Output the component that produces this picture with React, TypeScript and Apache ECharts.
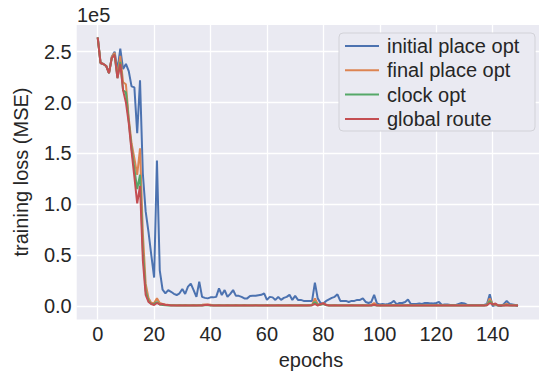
import React, { useEffect, useRef } from "react";
import * as echarts from "echarts";

// training loss (MSE), in units of 1e5, epochs 0..149
const initialPlaceOpt = [
  2.64, 2.39, 2.38, 2.36, 2.29, 2.45, 2.50, 2.32, 2.53, 2.33,
  2.38, 2.31, 2.16, 2.15, 1.70, 2.22, 1.30, 0.93, 0.73, 0.50,
  0.28, 1.43, 0.35, 0.16, 0.125, 0.157, 0.14, 0.12, 0.108, 0.125,
  0.167, 0.118, 0.19, 0.22, 0.157, 0.09, 0.24, 0.09, 0.08, 0.075,
  0.085, 0.085, 0.09, 0.174, 0.108, 0.157, 0.09, 0.12, 0.157, 0.10,
  0.10, 0.09, 0.075, 0.075, 0.098, 0.10, 0.10, 0.105, 0.11, 0.125,
  0.06, 0.09, 0.085, 0.06, 0.09, 0.06, 0.08, 0.09, 0.11, 0.06,
  0.10, 0.06, 0.06, 0.05, 0.05, 0.05, 0.05, 0.23, 0.075, 0.03,
  0.026, 0.05, 0.065, 0.08, 0.09, 0.115, 0.05, 0.05, 0.05, 0.04,
  0.05, 0.05, 0.06, 0.06, 0.075, 0.04, 0.03, 0.04, 0.11, 0.026,
  0.016, 0.02, 0.016, 0.02, 0.03, 0.05, 0.016, 0.03, 0.03, 0.04,
  0.065, 0.02, 0.02, 0.02, 0.025, 0.02, 0.03, 0.03, 0.026, 0.025,
  0.03, 0.04, 0.01, 0.015, 0.016, 0.01, 0.01, 0.01, 0.02, 0.03,
  0.025, 0.01, 0.01, 0.01, 0.01, 0.01, 0.01, 0.01, 0.02, 0.115,
  0.0, 0.01, 0.005, 0.0, 0.02, 0.05, 0.02, 0.015, 0.01, 0.0,
];

const finalPlaceOpt = [
  2.64, 2.39, 2.38, 2.36, 2.29, 2.45, 2.49, 2.26, 2.46, 2.20,
  2.18, 1.85, 1.60, 1.45, 1.29, 1.55, 0.72, 0.22, 0.08, 0.03,
  0.03, 0.075, 0.03, 0.02, 0.015, 0.012, 0.01, 0.01, 0.008, 0.01,
  0.008, 0.01, 0.008, 0.008, 0.01, 0.008, 0.01, 0.012, 0.015, 0.015,
  0.012, 0.008, 0.008, 0.01, 0.008, 0.008, 0.01, 0.008, 0.008, 0.01,
  0.008, 0.008, 0.01, 0.008, 0.008, 0.008, 0.01, 0.008, 0.008, 0.008,
  0.01, 0.008, 0.008, 0.008, 0.01, 0.008, 0.008, 0.008, 0.01, 0.008,
  0.008, 0.008, 0.01, 0.008, 0.008, 0.01, 0.012, 0.075, 0.02, 0.01,
  0.03, 0.012, 0.008, 0.008, 0.01, 0.008, 0.008, 0.008, 0.008, 0.008,
  0.01, 0.008, 0.008, 0.008, 0.01, 0.008, 0.008, 0.012, 0.03, 0.01,
  0.008, 0.008, 0.008, 0.008, 0.008, 0.01, 0.008, 0.008, 0.008, 0.008,
  0.01, 0.008, 0.008, 0.008, 0.008, 0.008, 0.008, 0.008, 0.008, 0.008,
  0.01, 0.008, 0.008, 0.008, 0.008, 0.008, 0.008, 0.008, 0.008, 0.008,
  0.008, 0.008, 0.008, 0.008, 0.008, 0.008, 0.008, 0.008, 0.012, 0.075,
  0.02, 0.01, 0.008, 0.008, 0.01, 0.02, 0.01, 0.008, 0.008, 0.008,
];

const clockOpt = [
  2.64, 2.39, 2.38, 2.36, 2.29, 2.44, 2.47, 2.24, 2.40, 2.12,
  2.10, 1.82, 1.55, 1.35, 1.15, 1.29, 0.55, 0.15, 0.05, 0.02,
  0.02, 0.04, 0.015, 0.01, 0.008, 0.006, 0.005, 0.005, 0.005, 0.005,
  0.005, 0.005, 0.005, 0.005, 0.005, 0.005, 0.005, 0.006, 0.008, 0.008,
  0.006, 0.005, 0.005, 0.005, 0.005, 0.005, 0.005, 0.005, 0.005, 0.005,
  0.005, 0.005, 0.005, 0.005, 0.005, 0.005, 0.005, 0.005, 0.005, 0.005,
  0.005, 0.005, 0.005, 0.005, 0.005, 0.005, 0.005, 0.005, 0.005, 0.005,
  0.005, 0.005, 0.005, 0.005, 0.005, 0.005, 0.008, 0.04, 0.01, 0.015,
  0.02, 0.008, 0.005, 0.005, 0.005, 0.005, 0.005, 0.005, 0.005, 0.005,
  0.005, 0.005, 0.005, 0.005, 0.005, 0.005, 0.005, 0.006, 0.01, 0.005,
  0.005, 0.005, 0.005, 0.005, 0.005, 0.005, 0.005, 0.005, 0.005, 0.005,
  0.005, 0.005, 0.005, 0.005, 0.005, 0.005, 0.005, 0.005, 0.005, 0.005,
  0.005, 0.005, 0.005, 0.005, 0.005, 0.005, 0.005, 0.005, 0.005, 0.005,
  0.005, 0.005, 0.005, 0.005, 0.005, 0.005, 0.005, 0.005, 0.008, 0.05,
  0.015, 0.02, 0.005, 0.005, 0.005, 0.01, 0.005, 0.005, 0.005, 0.005,
];

const globalRoute = [
  2.64, 2.39, 2.38, 2.36, 2.29, 2.44, 2.47, 2.24, 2.38, 2.12,
  2.00, 1.80, 1.52, 1.27, 1.01, 1.18, 0.45, 0.11, 0.04, 0.02,
  0.01, 0.03, 0.015, 0.02, 0.01, 0.01, 0.005, 0.005, 0.005, 0.005,
  0.005, 0.005, 0.005, 0.005, 0.005, 0.005, 0.005, 0.006, 0.01, 0.012,
  0.008, 0.005, 0.005, 0.005, 0.005, 0.005, 0.005, 0.005, 0.005, 0.005,
  0.005, 0.005, 0.005, 0.005, 0.005, 0.005, 0.005, 0.005, 0.005, 0.005,
  0.005, 0.005, 0.005, 0.005, 0.005, 0.005, 0.005, 0.005, 0.005, 0.005,
  0.005, 0.005, 0.005, 0.005, 0.005, 0.005, 0.008, 0.02, 0.005, 0.02,
  0.025, 0.01, 0.005, 0.005, 0.005, 0.005, 0.005, 0.005, 0.005, 0.005,
  0.005, 0.005, 0.005, 0.005, 0.005, 0.005, 0.005, 0.006, 0.012, 0.005,
  0.005, 0.005, 0.005, 0.005, 0.005, 0.005, 0.005, 0.005, 0.005, 0.005,
  0.005, 0.005, 0.005, 0.005, 0.005, 0.005, 0.005, 0.005, 0.005, 0.005,
  0.005, 0.005, 0.005, 0.005, 0.005, 0.005, 0.005, 0.005, 0.005, 0.005,
  0.005, 0.005, 0.005, 0.005, 0.005, 0.005, 0.005, 0.005, 0.008, 0.03,
  0.015, 0.025, 0.005, 0.005, 0.005, 0.008, 0.005, 0.005, 0.005, 0.005,
];

const seriesNames = ["initial place opt", "final place opt", "clock opt", "global route"];
const seriesColors = ["#4C72B0", "#DD8452", "#55A868", "#C44E52"];
const seriesValues = [initialPlaceOpt, finalPlaceOpt, clockOpt, globalRoute];

const FONT = "'Liberation Sans', Arial, Helvetica, sans-serif";
const TEXT = "#262626";
const FS = 20;

export default function App() {
  const ref = useRef<HTMLDivElement>(null);
  useEffect(() => {
    if (!ref.current) return;
    const chart = echarts.init(ref.current, null, { renderer: "svg" });
    chart.setOption({
      animation: false,
      backgroundColor: "#ffffff",
      textStyle: { fontFamily: FONT },
      grid: {
        left: 76.7,
        top: 25,
        width: 469.1,
        height: 294.4,
        show: true,
        backgroundColor: "#EAEAF2",
        borderWidth: 0,
        containLabel: false,
      },
      xAxis: {
        type: "value",
        min: -7.45,
        max: 156.45,
        minInterval: 20,
        maxInterval: 20,
        splitNumber: 8,
        axisLine: { show: false },
        axisTick: { show: false },
        axisLabel: {
          showMinLabel: false,
          showMaxLabel: false,
          margin: 5,
          color: TEXT,
          fontSize: FS,
          fontFamily: FONT,
        },
        splitLine: {
          show: true,
          showMinLine: false,
          showMaxLine: false,
          lineStyle: { color: "#ffffff", width: 1.3 },
        },
      },
      yAxis: {
        type: "value",
        min: -0.1316,
        max: 2.763,
        minInterval: 0.5,
        maxInterval: 0.5,
        splitNumber: 6,
        axisLine: { show: false },
        axisTick: { show: false },
        axisLabel: {
          showMinLabel: false,
          showMaxLabel: false,
          margin: 5,
          color: TEXT,
          fontSize: FS,
          fontFamily: FONT,
          formatter: (v: number) => v.toFixed(1),
        },
        splitLine: {
          show: true,
          showMinLine: false,
          showMaxLine: false,
          lineStyle: { color: "#ffffff", width: 1.3 },
        },
      },
      legend: {
        orient: "vertical",
        left: 345,
        top: 34,
        padding: 0,
        itemGap: 0.3,
        itemWidth: 34,
        itemHeight: 2,
        icon: "rect",
        data: seriesNames,
        textStyle: {
          color: TEXT,
          fontSize: FS,
          fontFamily: FONT,
          lineHeight: 24,
          padding: [0, 0, 0, 3],
        },
      },
      graphic: [
        {
          type: "rect",
          z: 3,
          shape: { x: 339, y: 33, width: 196, height: 98, r: 4 },
          style: { fill: "#EAEAF2", stroke: "#D2D2D8", lineWidth: 1 },
        },
        {
          type: "text",
          x: 77,
          y: 15,
          style: {
            text: "1e5",
            fill: TEXT,
            font: `${FS}px ${FONT}`,
            textAlign: "left",
            textVerticalAlign: "middle",
          },
        },
        {
          type: "text",
          x: 311,
          y: 360,
          style: {
            text: "epochs",
            fill: TEXT,
            font: `${FS}px ${FONT}`,
            textAlign: "center",
            textVerticalAlign: "middle",
          },
        },
        {
          type: "text",
          x: 21,
          y: 172,
          rotation: Math.PI / 2,
          style: {
            text: "training loss (MSE)",
            fill: TEXT,
            font: `${FS}px ${FONT}`,
            textAlign: "center",
            textVerticalAlign: "middle",
          },
        },
      ],
      series: seriesNames.map((name, k) => ({
        name,
        type: "line",
        showSymbol: false,
        symbol: "none",
        color: seriesColors[k],
        lineStyle: { color: seriesColors[k], width: 2 },
        data: seriesValues[k].map((v, i) => [i, v]),
        z: 2 + k * 0.01,
      })),
    });
    return () => chart.dispose();
  }, []);
  return (
    <div
      ref={ref}
      style={{ position: "fixed", left: 0, top: 0, width: 539, height: 377 }}
    />
  );
}
